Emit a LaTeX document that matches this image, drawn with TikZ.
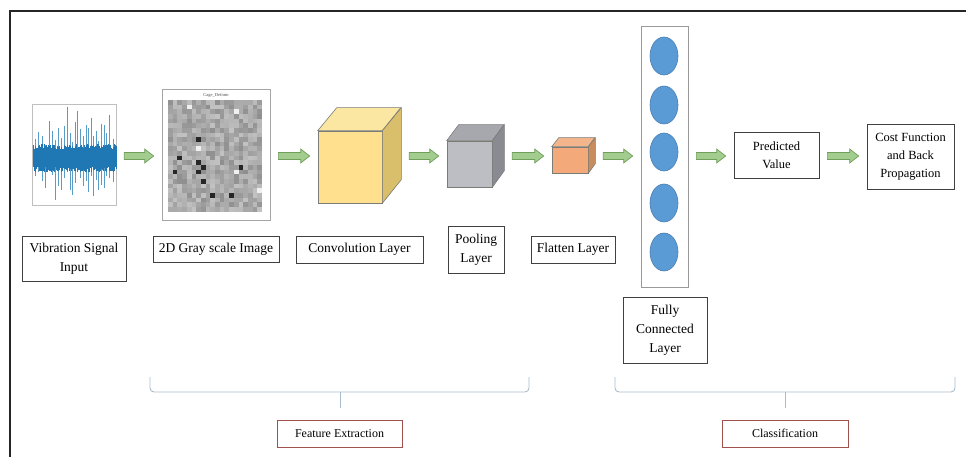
\documentclass[tikz,border=0pt]{standalone}
\usepackage{fontspec}
\setmainfont{Liberation Serif}
\usetikzlibrary{calc,shapes.geometric}

\definecolor{arrowfill}{HTML}{A3CC8F}
\definecolor{arrowline}{HTML}{6F9F5A}
\definecolor{sigblue}{HTML}{1F77B4}
\definecolor{spikeblue}{HTML}{5A9CC8}
\definecolor{nodeblue}{HTML}{5B9BD5}
\definecolor{nodeedge}{HTML}{4A7EB0}
\definecolor{bracecol}{HTML}{A9BCCB}
\definecolor{groupred}{HTML}{A0504D}
\definecolor{convfront}{HTML}{FFE08F}
\definecolor{convtop}{HTML}{FBE6A2}
\definecolor{convside}{HTML}{D9BE6C}
\definecolor{poolfront}{HTML}{BDBEC4}
\definecolor{pooltop}{HTML}{A7A8AE}
\definecolor{poolside}{HTML}{8A8B92}
\definecolor{flatfront}{HTML}{F4A97A}
\definecolor{flattop}{HTML}{F2B58C}
\definecolor{flatside}{HTML}{C98C5F}
\definecolor{cubeedge}{HTML}{7A7C78}

\tikzset{
  labelbox/.style={draw=black!75, line width=0.7pt, align=center, inner sep=0pt, font=\fontsize{13.5}{19}\selectfont},
  groupbox/.style={draw=groupred, line width=0.9pt, minimum width=125pt, minimum height=27pt, inner sep=0pt, font=\fontsize{12}{14}\selectfont},
  garrow/.style={fill=arrowfill, draw=arrowline, line width=0.7pt},
  cubeface/.style={draw=cubeedge, line width=0.6pt},
  neuron/.style={ellipse, fill=nodeblue, draw=nodeedge, line width=0.6pt, minimum width=28pt, minimum height=38pt, inner sep=0pt},
  brace/.style={draw=bracecol, line width=0.9pt, rounded corners=4pt},
}

% block arrow between two nodes, on the common axis
\newcommand{\flowarrow}[2]{%
  \draw[garrow] let \p1=($(#1|-axis)+(8,0)$), \p2=($(#2|-axis)+(-8,0)$) in
    (\x1,\y1+3.5pt) -- (\x2-9pt,\y1+3.5pt) -- (\x2-9pt,\y1+7pt) -- (\x2,\y1)
    -- (\x2-9pt,\y1-7pt) -- (\x2-9pt,\y1-3.5pt) -- (\x1,\y1-3.5pt) -- cycle;
}

\begin{document}
\begin{tikzpicture}[x=1pt, y=-1pt]
    \useasboundingbox (0,0) rectangle (966,457);
    \coordinate (axis) at (0,156);

    % Frame
    \draw[black!85, line width=1.3pt] (10,457) -- (10,11) -- (966,11);

    % Vibration signal
    \node[draw=black!25, line width=0.6pt, minimum width=84pt, minimum height=101pt, inner sep=0pt] (sig) at (74,154.5) {};
    \foreach \x/\t/\b in {35/139/176, 38/132/172, 42/136/181, 45/145/188, 49/121/170, 52/131/175, 55/140/200,
                          58/128/186, 61/138/190, 64/126/178, 67/107/172, 70/133/190, 72/142/195, 75/122/183,
                          77/111/168, 80/129/178, 83/136/186, 86/125/181, 88/128/192, 91/118/176, 93/136/196,
                          96/131/180, 98/141/190, 101/124/185, 104/125/188, 106/133/176, 109/115/178, 113/139/182}
        \draw[spikeblue, line width=0.5pt] (\x,\t) -- (\x,\b);
    \pgfmathsetseed{7}
    \foreach \x in {33.5,34,...,116}{
        \pgfmathsetmacro\a{8+6*rnd}
        \pgfmathsetmacro\b{8+6*rnd}
        \draw[sigblue, line width=0.55pt] (\x,158-\a) -- (\x,158+\b);
    }

    % Gray scale image
    \node[draw=black!35, line width=0.7pt, minimum width=108pt, minimum height=131pt, inner sep=0pt] (img) at (216,154.5) {};
    \node[font=\fontsize{4.5}{5}\selectfont, text=black!70] (imgtitle) at (216,95) {Cage\_Deform};
    \pgfmathsetseed{11}
    \foreach \i in {0,...,19}
    \foreach \j in {0,...,23}{
        \pgfmathsetmacro\r{rnd}
        \pgfmathsetmacro\g{\r<0.012 ? 85 : (\r>0.988 ? 6 : 24+20*rnd)}
        \fill[black!\g] (168+\i*4.7,100+\j*4.65) rectangle ++(4.7,4.65);
    }

    % Convolution cube
    \node[cubeface, fill=convfront, minimum width=64pt, minimum height=72pt, inner sep=0pt] (conv) at (350,167) {};
    \draw[cubeface, fill=convtop] (conv.north west) -- ++(19,-23) -- ++(64,0) -- (conv.north east) -- cycle;
    \draw[cubeface, fill=convside] (conv.north east) -- ++(19,-23) -- ++(0,72) -- (conv.south east) -- cycle;
    \coordinate (convR) at ($(conv.east)+(19,0)$);

    % Pooling cube
    \node[cubeface, fill=poolfront, minimum width=45pt, minimum height=46pt, inner sep=0pt] (pool) at (469.5,164) {};
    \draw[cubeface, fill=pooltop] (pool.north west) -- ++(12,-16) -- ++(45,0) -- (pool.north east) -- cycle;
    \draw[cubeface, fill=poolside] (pool.north east) -- ++(12,-16) -- ++(0,46) -- (pool.south east) -- cycle;
    \coordinate (poolR) at ($(pool.east)+(12,0)$);

    % Flatten cube
    \node[cubeface, fill=flatfront, minimum width=36pt, minimum height=26pt, inner sep=0pt] (flat) at (570,160) {};
    \draw[cubeface, fill=flattop] (flat.north west) -- ++(7,-9) -- ++(36,0) -- (flat.north east) -- cycle;
    \draw[cubeface, fill=flatside] (flat.north east) -- ++(7,-9) -- ++(0,26) -- (flat.south east) -- cycle;
    \coordinate (flatR) at ($(flat.east)+(7,0)$);

    % Fully connected layer
    \node[draw=black!40, line width=0.7pt, minimum width=47pt, minimum height=261pt, inner sep=0pt] (fc) at (664.5,156.5) {};
    \foreach \y [count=\n] in {56,105,152,203,252}
        \node[neuron] (n\n) at (664,\y) {};

    % Output boxes
    \node[labelbox, minimum width=85pt, minimum height=46pt, font=\fontsize{12.5}{18}\selectfont] (pred) at (776.5,155) {Predicted\\Value};
    \node[labelbox, minimum width=87pt, minimum height=65pt, font=\fontsize{12.5}{18}\selectfont] (cost) at (910.5,156.5) {Cost Function\\and Back\\Propagation};

    % Arrows
    \flowarrow{sig.east}{img.west}
    \flowarrow{img.east}{conv.west}
    \flowarrow{convR}{pool.west}
    \flowarrow{poolR}{flat.west}
    \flowarrow{flatR}{fc.west}
    \flowarrow{fc.east}{pred.west}
    \flowarrow{pred.east}{cost.west}

    % Labels
    \node[labelbox, minimum width=104pt, minimum height=45pt] (lsig) at (74,258.5) {Vibration Signal\\Input};
    \node[labelbox, minimum width=126pt, minimum height=26pt] (limg) at (216,249) {2D Gray scale Image};
    \node[labelbox, minimum width=127pt, minimum height=27pt] (lconv) at (359.5,249.5) {Convolution Layer};
    \node[labelbox, minimum width=56pt, minimum height=47pt] (lpool) at (476,249.5) {Pooling\\Layer};
    \node[labelbox, minimum width=84pt, minimum height=27pt] (lflat) at (573,249.5) {Flatten Layer};
    \node[labelbox, minimum width=84pt, minimum height=66pt] (lfc) at (665,330) {Fully\\Connected\\Layer};

    % Braces
    \draw[brace] (150,377) -- (150,392) -- (529,392) -- (529,377);
    \draw[bracecol, line width=0.9pt] (340,392) -- (340,408);
    \draw[brace] (615,377) -- (615,392) -- (955,392) -- (955,377);
    \draw[bracecol, line width=0.9pt] (785,392) -- (785,408);

    % Groups
    \node[groupbox] (feat) at (339.5,433.5) {Feature Extraction};
    \node[groupbox, minimum width=126pt] (cls) at (785,433.5) {Classification};
\end{tikzpicture}
\end{document}
